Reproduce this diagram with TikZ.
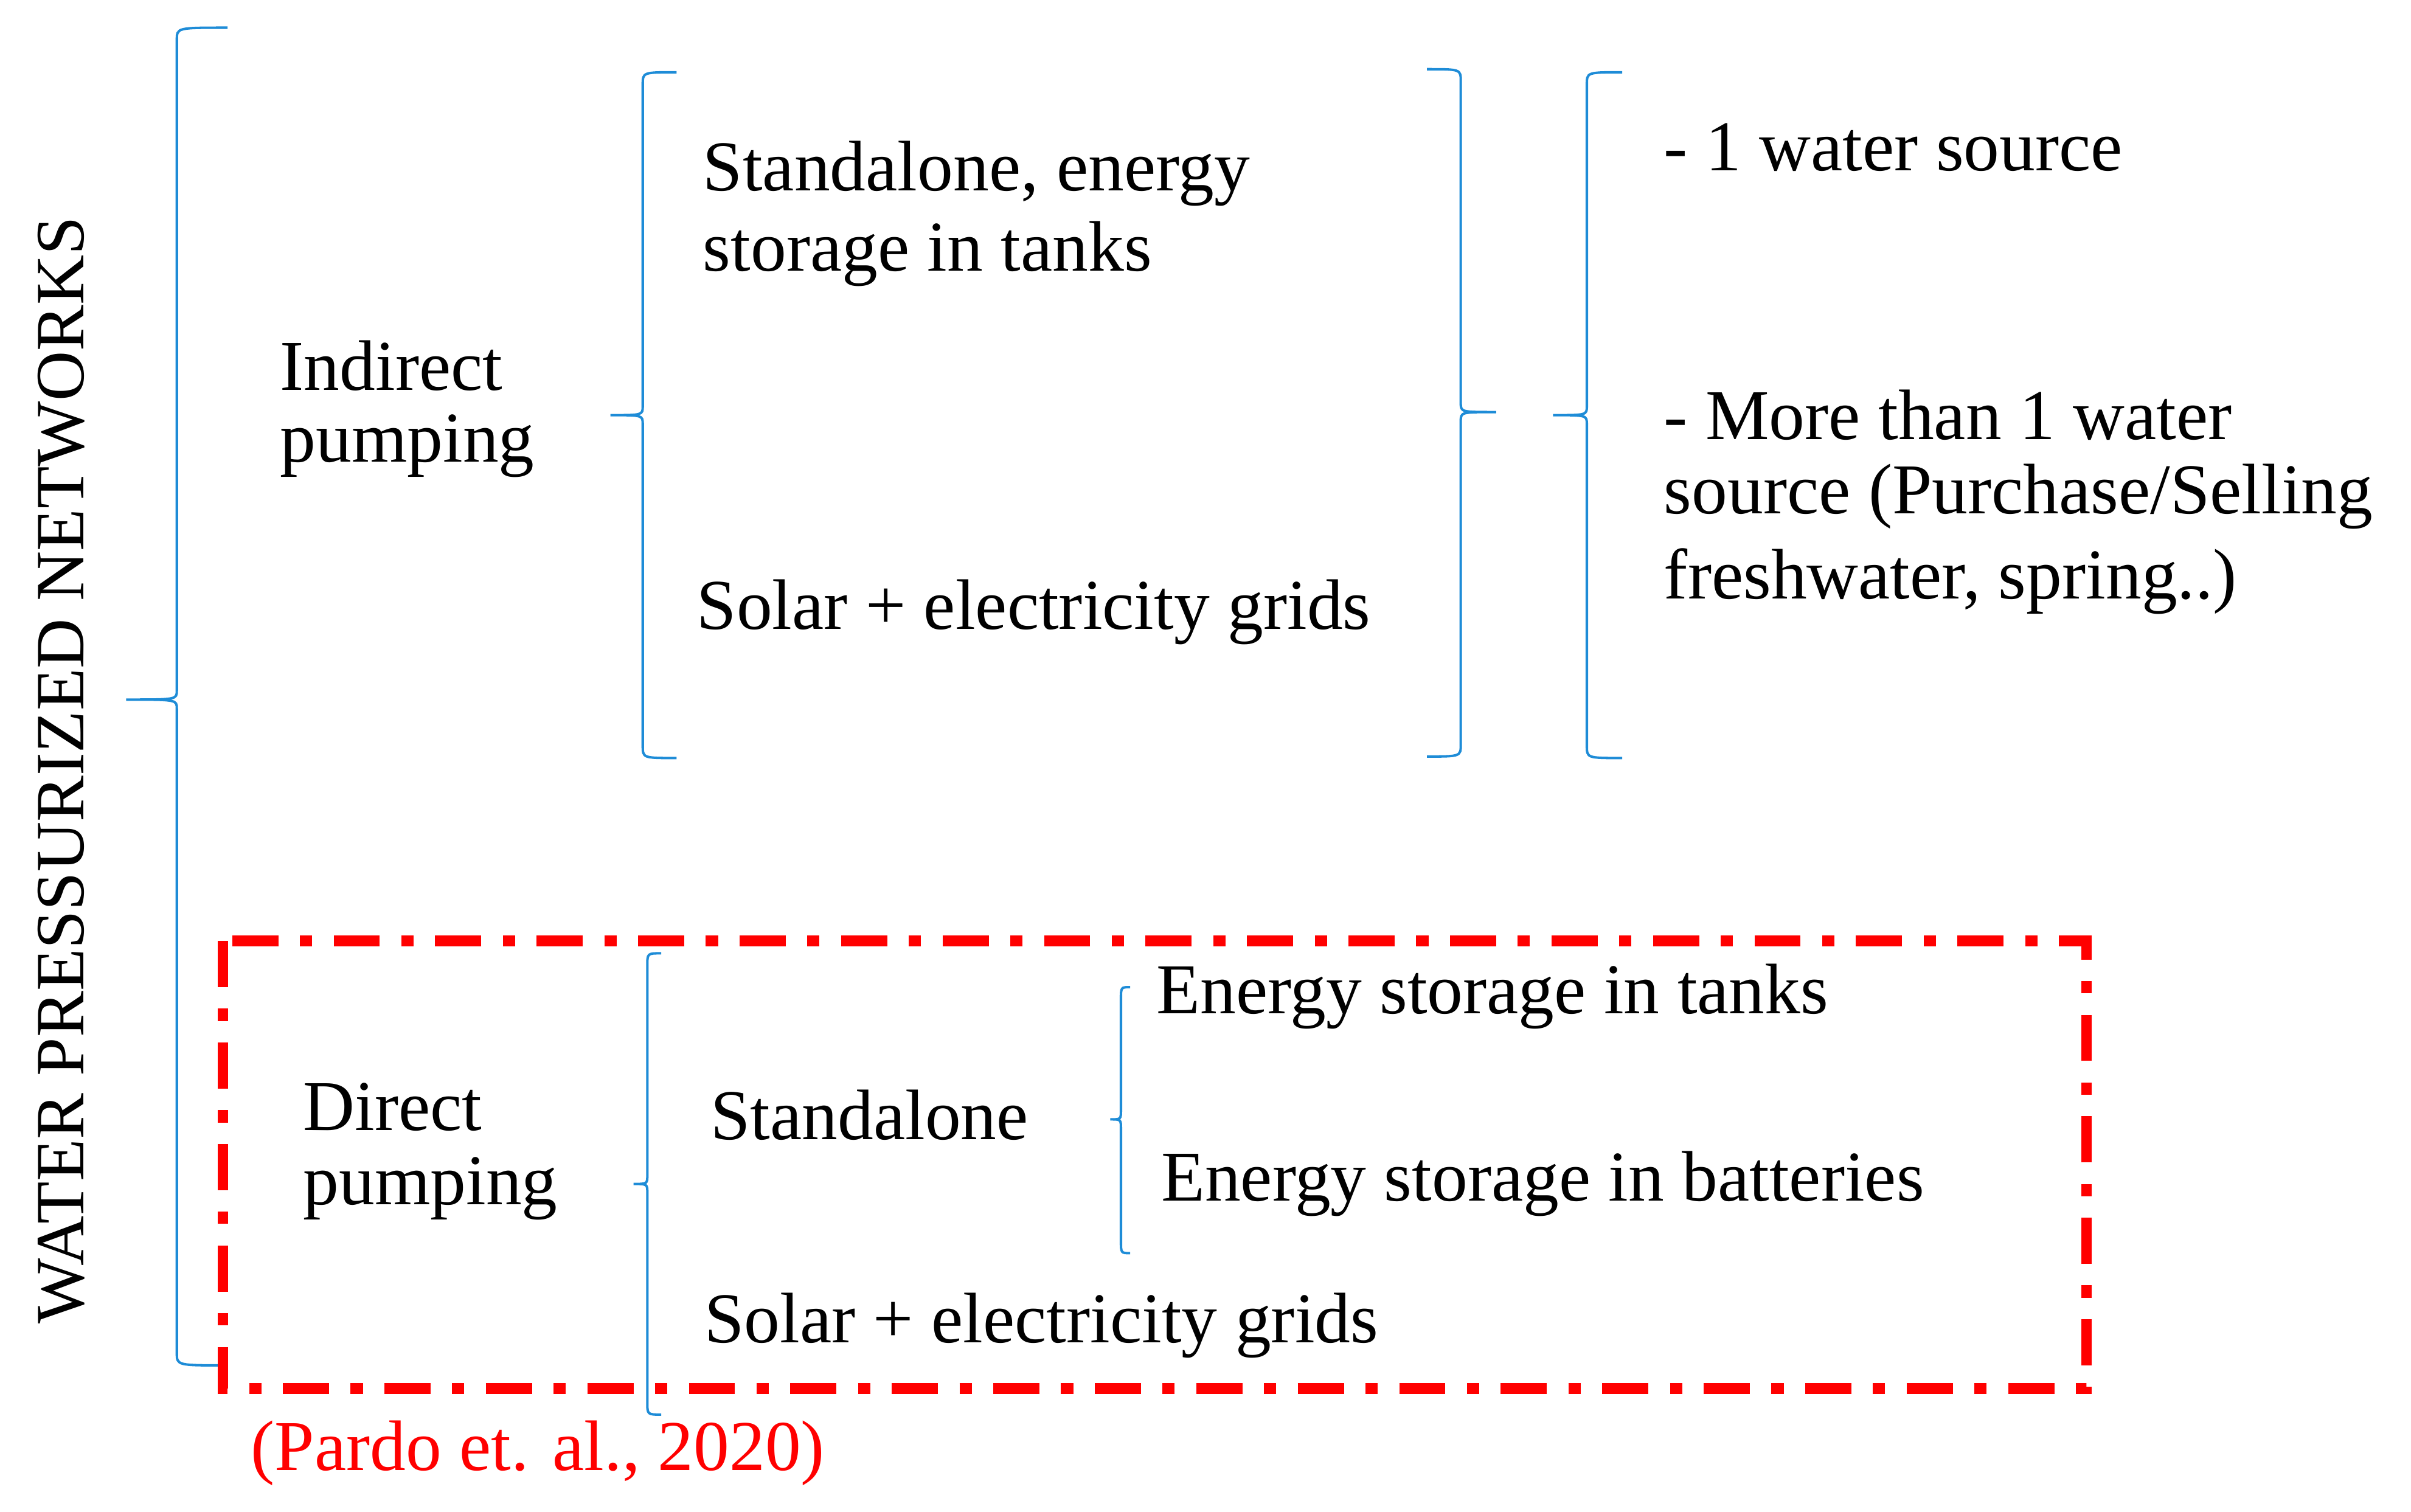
\documentclass[tikz,border=0pt]{standalone}
\usepackage{fontspec}
\setmainfont{Liberation Serif}
\begin{document}
\begin{tikzpicture}[x=1pt,y=-1pt,
  txt/.style={anchor=west,inner sep=0pt,font=\fontsize{46.5}{52}\selectfont},
  br/.style={draw={rgb,255:red,30;green,140;blue,215},line width=1.6pt}]
\useasboundingbox (0,0) rectangle (1568,983);
% brace: spine x, top, bot, tip y, tip x, end x
\newcommand\myBrace[6]{\draw[br] (#6,#2) .. controls (#1,#2) .. (#1,#2+8) -- (#1,#4-6) .. controls (#1,#4) .. (#5,#4) .. controls (#1,#4) .. (#1,#4+6) -- (#1,#3-8) .. controls (#1,#3) .. (#6,#3);}
\myBrace{115}{18}{888}{455}{82}{148}
\myBrace{418}{47}{493}{270}{397}{440}
\myBrace{950}{45}{492}{268}{973}{928}
\myBrace{1032}{47}{493}{270}{1010}{1055}
\myBrace{421}{620}{920}{770}{412}{430}
\myBrace{729}{642}{815}{728}{722}{735}
\draw[red,line width=7pt,dash pattern=on 30pt off 14pt on 8pt off 14pt] (145,612) rectangle (1357,903);
\node[txt] (s1) at (457,113) {Standalone, energy};
\node[txt] (s2) at (457,165) {storage in tanks};
\node[txt] (i1) at (182,238) {Indirect};
\node[txt] (i2) at (182,290) {pumping};
\node[txt] (sg1) at (453,398) {Solar + electricity grids};
\node[txt] (w1) at (1082,96) {- 1 water source};
\node[txt] (w2) at (1082,270) {- More than 1 water};
\node[txt] (w3) at (1082,323) {source (Purchase/Selling};
\node[txt] (w4) at (1082,378) {freshwater, spring..)};
\node[txt] (d1) at (197,720) {Direct};
\node[txt] (d2) at (197,773) {pumping};
\node[txt] (st) at (462,725) {Standalone};
\node[txt] (e1) at (752,648) {Energy storage in tanks};
\node[txt] (e2) at (755,770) {Energy storage in batteries};
\node[txt] (sg2) at (458,862) {Solar + electricity grids};
\node[txt,text=red] (ref) at (163,945) {(Pardo et. al., 2020)};
\node[inner sep=0pt,rotate=90,font=\fontsize{45}{50}\selectfont] (title) at (40,501) {WATER PRESSURIZED NETWORKS};
\end{tikzpicture}
\end{document}
